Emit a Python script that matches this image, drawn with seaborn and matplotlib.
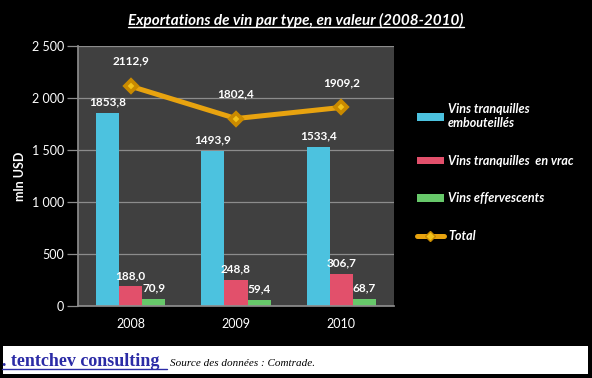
import matplotlib
matplotlib.use("Agg")
import matplotlib.pyplot as plt
from matplotlib.patches import Patch, Rectangle
from matplotlib.lines import Line2D
import seaborn as sns
import pandas as pd

# data (mln USD)
years = ["2008", "2009", "2010"]
types = ["Vins tranquilles\nembouteillés", "Vins tranquilles  en vrac", "Vins effervescents"]
embouteilles = [1853.8, 1493.9, 1533.4]
vrac = [188.0, 248.8, 306.7]
effervescents = [70.9, 59.4, 68.7]
total = [2112.9, 1802.4, 1909.2]

colors = ["#4cc2df", "#e2506b", "#67c86a"]
line_color = "#e8a30f"
marker_color = "#f2c21a"

df = pd.DataFrame({
    "annee": years * 3,
    "type": [types[0]] * 3 + [types[1]] * 3 + [types[2]] * 3,
    "valeur": embouteilles + vrac + effervescents,
})

sns.set_theme(style="dark")
plt.rcParams["font.family"] = ["Lato", "DejaVu Sans"]

fig = plt.figure(figsize=(5.92, 3.78), dpi=100, facecolor="black")
ax = fig.add_axes([78 / 592, 72 / 378, 316 / 592, 260 / 378])
ax.set_facecolor("#404040")

sns.barplot(data=df, x="annee", y="valeur", hue="type", hue_order=types,
            palette=colors, width=0.66, saturation=1, ax=ax, legend=False,
            edgecolor="none")
sns.pointplot(x=years, y=total, color=line_color, markers="D", linestyles="-",
              ax=ax, linewidth=3.6, markersize=6,
              markerfacecolor=marker_color, markeredgecolor="#c98a00")

fmt = lambda v: f"{v:.1f}".replace(".", ",")
for cont in ax.containers:
    ax.bar_label(cont, labels=[fmt(b.get_height()) for b in cont], padding=4,
                 color="white", fontsize=8.5, fontweight="bold")
for i, v in enumerate(total):
    ax.annotate(fmt(v), (i, v), xytext=(0, 18), textcoords="offset points",
                ha="center", va="center", color="white", fontsize=8.5,
                fontweight="bold")

ax.set_ylim(0, 2500)
ax.set_xlim(-0.5, 2.5)
ax.set_yticks(range(0, 2501, 500))
ax.set_yticklabels([f"{v:,}".replace(",", " ") for v in range(0, 2501, 500)])
ax.grid(axis="y", color="#8c8c8c", linewidth=0.9)
ax.grid(axis="x", visible=False)
ax.tick_params(axis="y", colors="#8c8c8c", labelcolor="white", length=8,
               width=0.9, labelsize=9, pad=2, left=True)
ax.tick_params(axis="x", length=0, labelcolor="white", labelsize=9, pad=9)
for side in ["top", "right"]:
    ax.spines[side].set_visible(False)
for side in ["left", "bottom"]:
    ax.spines[side].set_visible(True)
    ax.spines[side].set_color("#8c8c8c")
ax.set_xlabel("")
ax.set_ylabel("mln USD", color="white", fontsize=9, fontweight="bold", labelpad=4)

handles = [Patch(facecolor=c, edgecolor="none") for c in colors]
handles.append(Line2D([], [], color=line_color, linewidth=3.6, marker="D",
                      markersize=5, markerfacecolor=marker_color,
                      markeredgecolor="#c98a00"))
leg = fig.legend(handles, types + ["Total"], loc="upper left",
                 bbox_to_anchor=(406 / 592, 1 - 92 / 378), frameon=False,
                 labelspacing=2.05, handlelength=2.1, handleheight=0.55,
                 handletextpad=0.35, prop={"size": 9, "style": "italic", "weight": "bold"})
for t in leg.get_texts():
    t.set_color("white")

title = fig.text(0.5, 1 - 20 / 378, "Exportations de vin par type, en valeur (2008-2010)",
                 ha="center", va="center", color="white", fontsize=11,
                 fontweight="bold", style="italic")

# footer strip
fig.patches.append(Rectangle((3 / 592, 4 / 378), 585 / 592, 28 / 378,
                             transform=fig.transFigure, facecolor="white",
                             edgecolor="none", zorder=0))
brand = fig.text(2 / 592, 1 - 361 / 378, ". tentchev consulting", ha="left", va="center",
                 color="#2b2ba6", fontsize=13, fontweight="bold",
                 family="Liberation Serif")
fig.text(170 / 592, 1 - 363 / 378, "Source des données : Comtrade.", ha="left",
         va="center", color="black", fontsize=8, style="italic",
         family="Liberation Serif")

# underline the title and the brand text
fig.canvas.draw()
r = fig.canvas.get_renderer()
for t, extra in [(title, 0), (brand, 8)]:
    bb = t.get_window_extent(r)
    y = bb.y0 + 1
    fig.add_artist(Line2D([bb.x0, bb.x1 + extra], [y, y], transform=None,
                          color=t.get_color(), linewidth=1))

fig.savefig("out.png", dpi=100, facecolor="black")
